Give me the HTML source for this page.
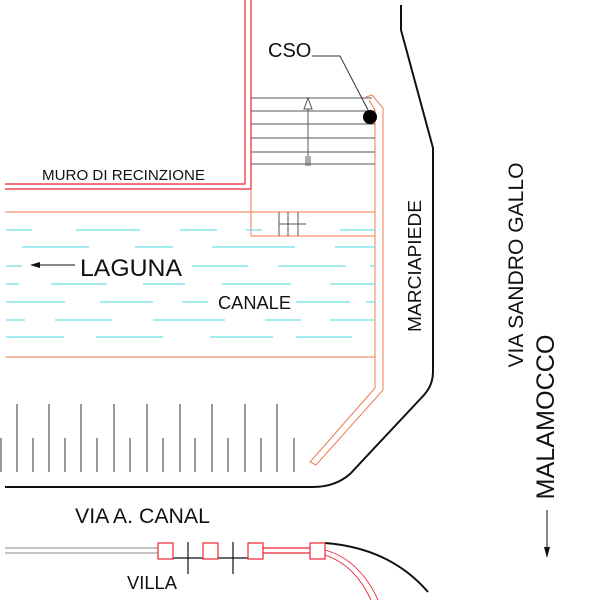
<!DOCTYPE html>
<html><head><style>body{margin:0;background:#fff}svg{display:block}text{font-family:"Liberation Sans",sans-serif;fill:#111}</style></head><body>
<svg width="600" height="600" viewBox="0 0 600 600" xmlns="http://www.w3.org/2000/svg">
<g fill="none" stroke="#e23" stroke-width="1.2">
<polyline points="5,184 245,184 245,0"/>
<polyline points="5,189 251,189 251,0"/>
</g>
<g fill="none" stroke="#f07a50" stroke-width="1">
<line x1="5" y1="212" x2="375" y2="212"/>
<line x1="5" y1="357" x2="375" y2="357"/>
<line x1="251" y1="189" x2="251" y2="236"/>
<line x1="251" y1="236" x2="375" y2="236"/>
<polyline points="366,97 372,95 383,108 383,390 316,465 310,462 375,388 375,110 369,100"/>
</g>
<g stroke="#555" stroke-width="1">
<line x1="251" y1="98" x2="372" y2="98"/><line x1="251" y1="111" x2="375" y2="111"/>
<line x1="251" y1="124" x2="375" y2="124"/><line x1="251" y1="138" x2="375" y2="138"/>
<line x1="251" y1="152" x2="375" y2="152"/><line x1="251" y1="164" x2="375" y2="164"/>
<line x1="308" y1="102" x2="308" y2="166"/><line x1="306" y1="156" x2="306" y2="166"/><line x1="310" y1="156" x2="310" y2="166"/>
<line x1="279" y1="212" x2="279" y2="236"/><line x1="288" y1="212" x2="288" y2="236"/><line x1="298" y1="212" x2="298" y2="236"/>
<line x1="279" y1="224" x2="306" y2="224"/>
</g>
<polygon points="308,98 304,109 312,109" fill="#fff" stroke="#555"/>
<g stroke="#6de3e8" stroke-width="1.2">
<path d="M6 230H32M76 230H140M180 230H217M246 230H262M340 230H375"/>
<path d="M22 247H89M135 247H173M212 247H295M335 247H375"/>
<path d="M6 266H22M192 266H248M278 266H346M370 266H375"/>
<path d="M6 284H19M51 284H107M143 284H185M222 284H291M330 284H375"/>
<path d="M6 302H65M100 302H153M182 302H208M296 302H350M366 302H375"/>
<path d="M6 320H25M55 320H112M153 320H225M265 320H301M330 320H375"/>
<path d="M6 337H64M96 337H163M210 337H273M296 337H352"/>
</g>
<g fill="none" stroke="#111" stroke-width="2">
<path d="M401 5V30L433 148V372Q433 385 424 395L350 474Q335 487 313 487H5"/>
<path d="M325 543Q390 548 428 592"/>
</g>
<g stroke="#555" stroke-width="1.2">
<path d="M17 404V472M49 404V472M81 404V472M114 404V472M147 404V472M180 404V472M212 404V472M245 404V472M277 404V472"/>
<path d="M1 438V472M33 438V472M65 438V472M97 438V472M130 438V472M163 438V472M195 438V472M228 438V472M261 438V472M294 438V472"/>
</g>
<g stroke="#888" stroke-width="1">
<line x1="5" y1="548" x2="158" y2="548"/><line x1="5" y1="553" x2="158" y2="553"/>
</g>
<g fill="none" stroke="#111" stroke-width="1.2">
<polyline points="173,558 203,558"/><polyline points="218,558 248,558"/>
<line x1="188" y1="542" x2="188" y2="574"/><line x1="233" y1="542" x2="233" y2="574"/>
</g>
<g fill="none" stroke="#e23" stroke-width="1.2">
<rect x="158" y="543" width="15" height="16"/><rect x="203" y="543" width="15" height="16"/>
<rect x="248" y="543" width="15" height="16"/><rect x="310" y="543" width="15" height="16"/>
<line x1="263" y1="548" x2="310" y2="548"/><line x1="263" y1="553" x2="310" y2="553"/>
<path d="M325 550Q360 560 378 600M325 555Q355 565 371 600" stroke-width="0.9"/>
</g>
<polyline points="312,56 340,56 368,110" fill="none" stroke="#333"/>
<circle cx="370" cy="117" r="7" fill="#000"/>
<line x1="36" y1="265" x2="75" y2="265" stroke="#111"/>
<polygon points="30,265 40,262 40,268" fill="#111"/>
<line x1="547" y1="510" x2="547" y2="550" stroke="#111"/>
<polygon points="547,558 544,547 550,547" fill="#111"/>
<text x="268" y="57" font-size="20">CSO</text>
<text x="42" y="180" font-size="15" textLength="163" lengthAdjust="spacingAndGlyphs">MURO DI RECINZIONE</text>
<text x="80" y="276" font-size="24" textLength="102" lengthAdjust="spacingAndGlyphs">LAGUNA</text>
<text x="218" y="309" font-size="18" textLength="73" lengthAdjust="spacingAndGlyphs">CANALE</text>
<text x="75" y="523" font-size="21" textLength="135" lengthAdjust="spacingAndGlyphs">VIA A. CANAL</text>
<text x="127" y="589" font-size="18" textLength="50" lengthAdjust="spacingAndGlyphs">VILLA</text>
<text transform="translate(421,266) rotate(-90)" text-anchor="middle" font-size="18" textLength="132" lengthAdjust="spacingAndGlyphs">MARCIAPIEDE</text>
<text transform="translate(523,265) rotate(-90)" text-anchor="middle" font-size="21" textLength="205" lengthAdjust="spacingAndGlyphs">VIA SANDRO GALLO</text>
<text transform="translate(554,417) rotate(-90)" text-anchor="middle" font-size="25" textLength="165" lengthAdjust="spacingAndGlyphs">MALAMOCCO</text>
</svg>
</body></html>
